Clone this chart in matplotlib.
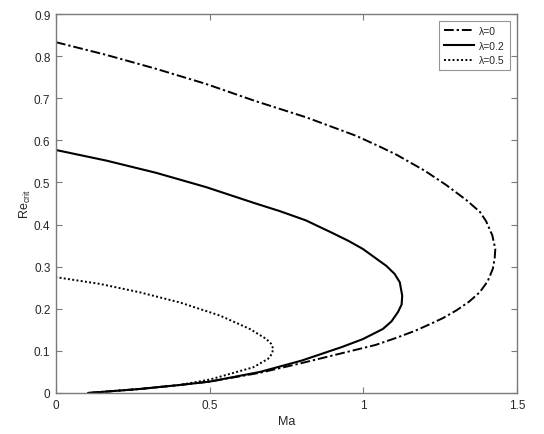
import matplotlib
matplotlib.use("Agg")
import matplotlib.pyplot as plt

plt.rcParams['font.family'] = ['Liberation Sans', 'DejaVu Sans']
plt.rcParams['mathtext.fontset'] = 'custom'
plt.rcParams['mathtext.rm'] = 'Liberation Sans'

labels = ['λ=0', 'λ=0.2', 'λ=0.5']

# curve lambda = 0 (Ma as a function of Re_crit)
re_l0 = [0, 0.0095, 0.019, 0.027, 0.048, 0.070, 0.099, 0.114, 0.131, 0.148,
         0.163, 0.178, 0.196, 0.217, 0.239, 0.265, 0.295, 0.32, 0.342, 0.375,
         0.408, 0.43, 0.458, 0.494, 0.528, 0.566, 0.585, 0.611, 0.655, 0.693,
         0.734, 0.77, 0.803, 0.833]
ma_l0 = [0.105, 0.273, 0.403, 0.5, 0.664, 0.794, 0.956, 1.04, 1.108, 1.17,
         1.216, 1.26, 1.303, 1.345, 1.379, 1.405, 1.422, 1.428, 1.43, 1.42,
         1.40, 1.38, 1.336, 1.27, 1.2, 1.108, 1.054, 0.976, 0.813, 0.65,
         0.488, 0.325, 0.163, 0.0]

# curve lambda = 0.2
re_l2 = [0, 0.0095, 0.019, 0.027, 0.05, 0.077, 0.109, 0.128, 0.152, 0.17,
         0.192, 0.21, 0.231, 0.263, 0.283, 0.302, 0.342, 0.362, 0.383, 0.41,
         0.432, 0.45, 0.489, 0.523, 0.552, 0.577]
ma_l2 = [0.105, 0.273, 0.403, 0.5, 0.664, 0.80, 0.93, 0.999, 1.064, 1.092,
         1.113, 1.125, 1.127, 1.119, 1.102, 1.075, 0.999, 0.95, 0.891, 0.813,
         0.728, 0.65, 0.488, 0.325, 0.163, 0.0]

# curve lambda = 0.5
re_l5 = [0, 0.0095, 0.019, 0.032, 0.043, 0.061, 0.081, 0.093, 0.105, 0.117,
         0.128, 0.152, 0.184, 0.215, 0.239, 0.259, 0.275]
ma_l5 = [0.105, 0.273, 0.403, 0.501, 0.555, 0.642, 0.69, 0.703, 0.707, 0.700,
         0.685, 0.631, 0.533, 0.403, 0.273, 0.143, 0.0]

xticks = [0, 0.5, 1, 1.5]
xticklabels = ['0', '0.5', '1', '1.5']
yticks = [0, 0.1, 0.2, 0.3, 0.4, 0.5, 0.6, 0.7, 0.8, 0.9]
yticklabels = ['0', '0.1', '0.2', '0.3', '0.4', '0.5', '0.6', '0.7', '0.8', '0.9']

fig = plt.figure(figsize=(5.44, 4.35), dpi=100)
ax = fig.add_axes([0.103, 0.0943, 0.847, 0.8712])

ax.plot(ma_l0, re_l0, color='black', lw=1.4, linestyle=(0, (5, 1.5, 1.2, 1.5)),
        label=labels[0], solid_joinstyle='round')
ax.plot(ma_l2, re_l2, color='black', lw=1.5, linestyle='-', label=labels[1],
        solid_joinstyle='round')
ax.plot(ma_l5, re_l5, color='black', lw=1.4, linestyle=(0, (1, 1.2)), label=labels[2])

ax.set_xlim(0, 1.5)
ax.set_ylim(0, 0.9)
ax.set_xticks(xticks)
ax.set_xticklabels(xticklabels)
ax.set_yticks(yticks)
ax.set_yticklabels(yticklabels)

axis_grey = '#7a7a7a'
text_col = '#262626'
for s in ax.spines.values():
    s.set_color(axis_grey)
    s.set_linewidth(1.0)
ax.tick_params(direction='in', top=True, right=True, length=4.5, width=0.8,
               color=axis_grey, labelcolor=text_col, labelsize=8.5, pad=4)

ax.set_xlabel('Ma', fontsize=9, color=text_col, labelpad=3)
ax.set_ylabel(r'Re$_{\mathrm{crit}}$', fontsize=9, color=text_col, labelpad=1)

leg = ax.legend(loc='upper right', fontsize=7.5, frameon=True, fancybox=False,
                handlelength=2.9, handletextpad=0.5, borderpad=0.45,
                labelspacing=0.45, borderaxespad=0.7)
leg.get_frame().set_edgecolor(axis_grey)
leg.get_frame().set_linewidth(0.8)
for t in leg.get_texts():
    t.set_color(text_col)

fig.savefig('out.png', dpi=100)
